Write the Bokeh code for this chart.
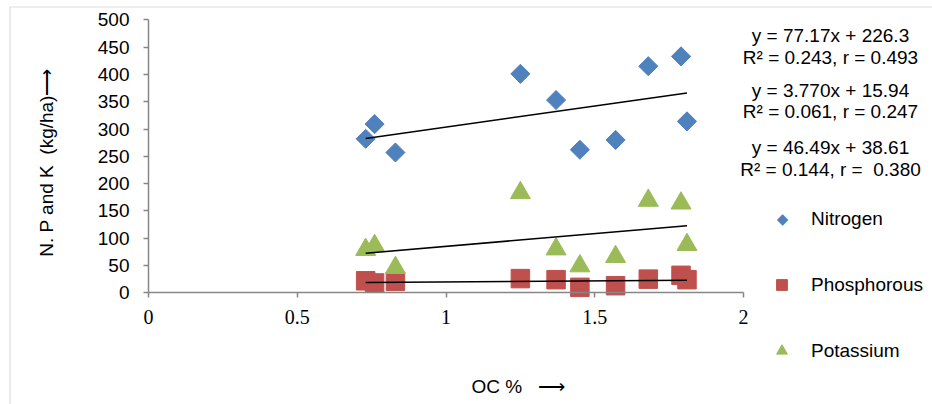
import math
from bokeh.plotting import figure
from bokeh.models import (Range1d, FixedTicker, CustomJSTickFormatter, Label,
                          Legend, LegendItem, BoxAnnotation)
from bokeh.embed import file_html
from bokeh.resources import INLINE

# ---------------- data ----------------
oc = [0.73, 0.76, 0.83, 1.25, 1.37, 1.45, 1.57, 1.68, 1.79, 1.81]
nitrogen = [282, 309, 257, 401, 353, 262, 280, 415, 433, 314]
phosphorous = [22, 18, 21, 26, 24, 10, 13, 25, 32, 24]
potassium = [79, 86, 46, 183, 80, 49, 66, 169, 164, 88]

series_names = ["Nitrogen", "Phosphorous", "Potassium"]
slopes = [77.17, 3.770, 46.49]
intercepts = [226.3, 15.94, 38.61]
NB = "\u00a0"
equation_lines = [
    "y = 77.17x + 226.3", "R\u00b2 = 0.243, r = 0.493",
    "y = 3.770x + 15.94", "R\u00b2 = 0.061, r = 0.247",
    "y = 46.49x + 38.61", "R\u00b2 = 0.144, r =" + NB + " 0.380",
]
x_ticks = [0, 0.5, 1, 1.5, 2]
y_ticks = [0, 50, 100, 150, 200, 250, 300, 350, 400, 450, 500]
x_label = "OC %" + NB * 2 + " \u27f6"
y_label = "N. P and K" + NB + " (kg/ha)\u27f6"

# ---------------- layout (pixels) ----------------
W, H = 932, 404
X_AX0, X_AX1 = 148.0, 743.0      # pixel of x = 0 and x = 2
Y_AX0, Y_AX1 = 292.3, 19.3       # pixel of y = 0 and y = 500
xs_px = (X_AX1 - X_AX0) / (x_ticks[-1] - x_ticks[0])
ys_px = (Y_AX0 - Y_AX1) / (y_ticks[-1] - y_ticks[0])
x_range = Range1d(-X_AX0 / xs_px, (W - X_AX0) / xs_px)
y_range = Range1d(-(H - Y_AX0) / ys_px, y_ticks[-1] + Y_AX1 / ys_px)

colors = ["#4F81BD", "#C0504D", "#9BBB59"]
axis_gray = "#868686"
sans = "Liberation Sans"
serif = "Liberation Serif"

p = figure(width=W, height=H, x_range=x_range, y_range=y_range,
           output_backend="svg", toolbar_location=None,
           min_border=0, min_border_left=0, min_border_right=0,
           min_border_top=0, min_border_bottom=0)
p.xgrid.visible = False
p.ygrid.visible = False
p.outline_line_color = None
p.background_fill_color = "white"
p.border_fill_color = "white"

p.xaxis.ticker = FixedTicker(ticks=x_ticks)
p.xaxis.formatter = CustomJSTickFormatter(code="return tick.toString()")
p.yaxis.ticker = FixedTicker(ticks=y_ticks)
p.xaxis.fixed_location = 0
p.yaxis.fixed_location = 0
p.xaxis.bounds = (x_ticks[0], x_ticks[-1])
p.yaxis.bounds = (y_ticks[0], y_ticks[-1])
for ax in p.axis:
    ax.axis_line_color = axis_gray
    ax.axis_line_width = 1.5
    ax.major_tick_line_color = axis_gray
    ax.major_tick_line_width = 1.5
    ax.major_tick_in = 0
    ax.major_tick_out = 5
    ax.minor_tick_line_color = None
    ax.major_label_text_color = "black"
p.xaxis.major_label_text_font = serif
p.xaxis.major_label_text_font_size = "20px"
p.xaxis.major_label_standoff = 12
p.yaxis.major_label_text_font = sans
p.yaxis.major_label_text_font_size = "19px"
p.yaxis.major_label_standoff = 14

# chart-area border (top and left edges visible)
p.add_layout(BoxAnnotation(left=9.5, right=W + 20, top=H - 6.5, bottom=-20,
                           left_units="screen", right_units="screen",
                           top_units="screen", bottom_units="screen",
                           fill_alpha=0, line_color="#8c8c8c", line_width=1.2))

# ---------------- marks ----------------
rN = p.scatter(oc, nitrogen, marker="square", angle=math.pi / 4, size=13.5,
               fill_color=colors[0], line_color=colors[0])
rP = p.scatter(oc, phosphorous, marker="square", size=18.5,
               fill_color=colors[1], line_color=colors[1])
rK = p.scatter(oc, potassium, marker="triangle", size=20,
               fill_color=colors[2], line_color=colors[2])

x_lo, x_hi = min(oc), max(oc)
for s, b in zip(slopes, intercepts):
    p.line([x_lo, x_hi], [s * x_lo + b, s * x_hi + b], line_color="black", line_width=1.5)

# legend-only stand-in for the nitrogen swatch (legend ignores marker angle)
rN_leg = p.scatter(x=[], y=[], marker="square", fill_alpha=0, line_alpha=0)

# ---------------- legend ----------------
legend = Legend(items=[LegendItem(label=n, renderers=[r]) for n, r in zip(series_names, [rN_leg, rP, rK])],
                location=(768, H - 364), orientation="vertical",
                glyph_width=27, glyph_height=27, label_height=27, spacing=39,
                label_standoff=16, padding=0, margin=0,
                border_line_color=None, background_fill_alpha=0,
                label_text_font=sans, label_text_font_size="19px", label_text_color="black")
p.add_layout(legend)
p.add_layout(Label(x=782, y=H - 218.7, x_units="screen", y_units="screen", text="\u25c6",
                   text_align="center", text_baseline="middle",
                   text_font="DejaVu Sans", text_font_size="15px", text_color=colors[0]))

# ---------------- texts ----------------
eq_baselines = [35, 56.5, 89.5, 110.5, 147, 168.5]
for t, yy in zip(equation_lines, eq_baselines):
    p.add_layout(Label(x=830, y=H - yy, x_units="screen", y_units="screen", text=t,
                       text_align="center", text_baseline="alphabetic",
                       text_font=sans, text_font_size="19px", text_color="black"))

p.add_layout(Label(x=471, y=H - 386, x_units="screen", y_units="screen", text=x_label,
                   text_align="left", text_baseline="alphabetic",
                   text_font=sans, text_font_size="19px", text_color="black"))
p.add_layout(Label(x=46, y=H - 162, x_units="screen", y_units="screen", text=y_label,
                   angle=math.pi / 2, text_align="center", text_baseline="middle",
                   text_font=sans, text_font_size="19px", text_color="black"))

open("out.html", "w").write(file_html(p, INLINE))
